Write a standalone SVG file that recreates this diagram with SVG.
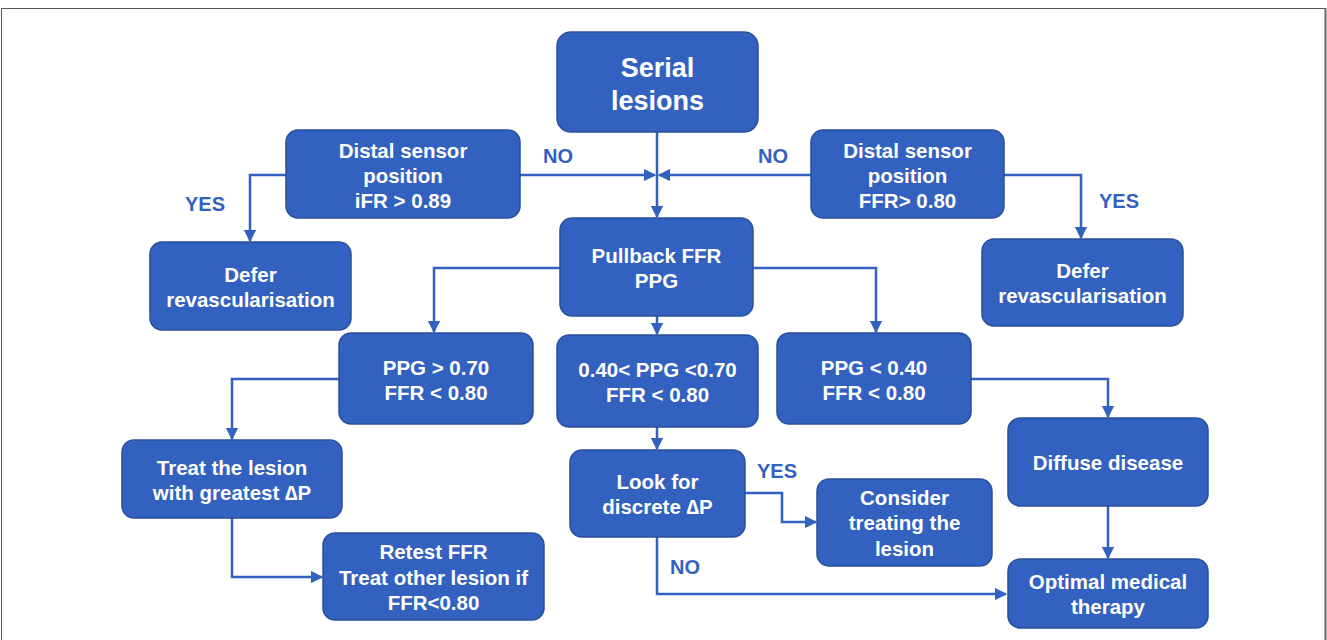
<svg xmlns="http://www.w3.org/2000/svg" width="1327" height="640" viewBox="0 0 1327 640">
<defs>
<style>
.n rect{fill:#3361bf;stroke:#2a4f9c;stroke-width:1.5}
.n text{fill:#fff;font-family:"Liberation Sans",Arial,sans-serif;font-weight:bold;font-size:20.5px;text-anchor:middle}
.n text.big{font-size:27px}
.c{fill:none;stroke:#3361bf;stroke-width:2.5;marker-end:url(#ah)}
.l{fill:#3361bf;font-family:"Liberation Sans",Arial,sans-serif;font-weight:bold;font-size:20px}
</style>
<marker id="ah" viewBox="0 0 10 10" refX="9" refY="5" markerWidth="5" markerHeight="5" orient="auto" markerUnits="strokeWidth">
<path d="M0,0 L10,5 L0,10 z" fill="#3361bf"/>
</marker>
</defs>
<rect x="0" y="0" width="1327" height="640" fill="#fff"/>
<path d="M1.5,640 V8.5 H1325.5 V640" fill="none" stroke="#555" stroke-width="1"/>
<line x1="1325.5" y1="8" x2="1325.5" y2="640" stroke="#666" stroke-width="2"/>

<g id="connectors">
<path class="c" d="M657,132 V217"/>
<path class="c" d="M520,175 H655"/>
<path class="c" d="M811,175 H659"/>
<path class="c" d="M286,175 H250 V241"/>
<path class="c" d="M1004,175 H1081 V238"/>
<path class="c" d="M560,268 H434 V332"/>
<path class="c" d="M657,316 V334"/>
<path class="c" d="M753,268 H876 V332"/>
<path class="c" d="M339,379 H232 V439"/>
<path class="c" d="M657,427 V449"/>
<path class="c" d="M971,379 H1108 V417"/>
<path class="c" d="M232,518 V577 H322"/>
<path class="c" d="M745,493 H782 V522 H816"/>
<path class="c" d="M657,537 V594 H1006"/>
<path class="c" d="M1108,506 V558"/>
</g>
<g id="labels">
<text class="l" x="543" y="163">NO</text>
<text class="l" x="758" y="163">NO</text>
<text class="l" x="185" y="211">YES</text>
<text class="l" x="1099" y="208">YES</text>
<text class="l" x="757" y="478">YES</text>
<text class="l" x="670" y="574">NO</text>
</g>

<g id="serial" class="n"><rect x="557" y="32" width="201" height="100" rx="14"/>
<text class="big" x="657.5" y="77">Serial</text><text class="big" x="657.5" y="110">lesions</text></g>

<g id="distal-ifr" class="n"><rect x="286" y="130" width="234" height="88" rx="12"/>
<text x="403" y="158">Distal sensor</text><text x="403" y="183">position</text><text x="403" y="208">iFR &gt; 0.89</text></g>

<g id="distal-ffr" class="n"><rect x="811" y="130" width="193" height="88" rx="12"/>
<text x="907.5" y="158">Distal sensor</text><text x="907.5" y="183">position</text><text x="907.5" y="208">FFR&gt; 0.80</text></g>

<g id="defer-left" class="n"><rect x="150" y="242" width="201" height="88" rx="12"/>
<text x="250.5" y="282">Defer</text><text x="250.5" y="307">revascularisation</text></g>

<g id="defer-right" class="n"><rect x="982" y="239" width="201" height="87" rx="12"/>
<text x="1082.5" y="278">Defer</text><text x="1082.5" y="303">revascularisation</text></g>

<g id="pullback" class="n"><rect x="560" y="218" width="193" height="98" rx="12"/>
<text x="656.5" y="263">Pullback FFR</text><text x="656.5" y="288">PPG</text></g>

<g id="ppg-high" class="n"><rect x="339" y="333" width="194" height="91" rx="12"/>
<text x="436" y="375">PPG &gt; 0.70</text><text x="436" y="400">FFR &lt; 0.80</text></g>

<g id="ppg-mid" class="n"><rect x="557" y="335" width="201" height="92" rx="12"/>
<text x="657.5" y="377">0.40&lt; PPG &lt;0.70</text><text x="657.5" y="402">FFR &lt; 0.80</text></g>

<g id="ppg-low" class="n"><rect x="777" y="333" width="194" height="91" rx="12"/>
<text x="874" y="375">PPG &lt; 0.40</text><text x="874" y="400">FFR &lt; 0.80</text></g>

<g id="treat" class="n"><rect x="122" y="440" width="220" height="78" rx="12"/>
<text x="232" y="475">Treat the lesion</text><text x="232" y="500">with greatest ∆P</text></g>

<g id="retest" class="n"><rect x="323" y="533" width="221" height="87" rx="12"/>
<text x="433.5" y="559">Retest FFR</text><text x="433.5" y="585">Treat other lesion if</text><text x="433.5" y="610">FFR&lt;0.80</text></g>

<g id="look" class="n"><rect x="570" y="450" width="175" height="87" rx="12"/>
<text x="657.5" y="489">Look for</text><text x="657.5" y="514">discrete ∆P</text></g>

<g id="consider" class="n"><rect x="817" y="479" width="175" height="87" rx="12"/>
<text x="904.5" y="505">Consider</text><text x="904.5" y="530">treating the</text><text x="904.5" y="556">lesion</text></g>

<g id="diffuse" class="n"><rect x="1008" y="418" width="200" height="88" rx="12"/>
<text x="1108" y="470">Diffuse disease</text></g>

<g id="omt" class="n"><rect x="1008" y="559" width="200" height="69" rx="12"/>
<text x="1108" y="589">Optimal medical</text><text x="1108" y="614">therapy</text></g>
</svg>
